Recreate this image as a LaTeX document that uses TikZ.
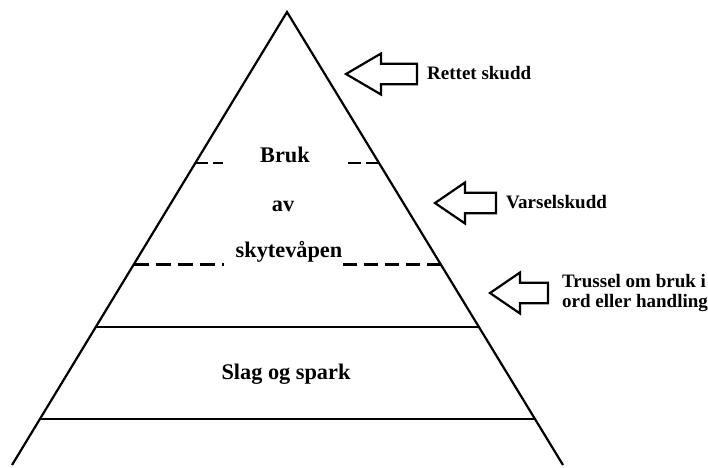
\documentclass[tikz,border=0pt]{standalone}
\usepackage{fontspec}
\setmainfont{Liberation Serif}
\usetikzlibrary{calc}
\tikzset{
  edge/.style={line width=2.2pt, line cap=butt},
  dashline/.style={line width=2.4pt, dash pattern=on 13pt off 6pt},
  big/.style={font=\bfseries\fontsize{22.3}{24}\selectfont, inner sep=0pt},
  side/.style={font=\bfseries\fontsize{19}{20.5}\selectfont, inner sep=0pt, anchor=west, align=left},
  blockarrow/.style={line width=2.2pt, line join=miter, fill=white}
}
\newcommand{\leftblockarrow}[3]{% tip coordinate, head length, total length
  \draw[blockarrow] (#1) -- ++(#2,-20.5) -- ++(0,10.25) -- ++(#3-#2,0) -- ++(0,20.5) -- ++(#2-#3,0) -- ++(0,10.25) -- cycle;
}
\begin{document}
\begin{tikzpicture}[x=1pt,y=-1pt]
\useasboundingbox (0,0) rectangle (708,467);
\coordinate (apex) at (287,12);
\coordinate (bl) at (12,465);
\coordinate (br) at (563,465);
% triangle sides
\draw[edge, line join=miter] (bl) -- (apex) -- (br);
% solid levels
\coordinate (l3) at ($(apex)!{(327-12)/453}!(bl)$);
\coordinate (r3) at ($(apex)!{(327-12)/453}!(br)$);
\coordinate (l4) at ($(apex)!{(419-12)/453}!(bl)$);
\coordinate (r4) at ($(apex)!{(419-12)/453}!(br)$);
\draw[edge] (l3) -- (r3);
\draw[edge] (l4) -- (r4);
% dashed levels
\coordinate (l1) at ($(apex)!{(163-12)/453}!(bl)$);
\coordinate (r1) at ($(apex)!{(163-12)/453}!(br)$);
\coordinate (l2) at ($(apex)!{(264.5-12)/453}!(bl)$);
\coordinate (r2) at ($(apex)!{(264.5-12)/453}!(br)$);
\draw[dashline, dash pattern=on 13pt off 5pt] (l1) -- ++(28,0);
\draw[dashline, dash pattern=on 13pt off 5pt] (r1) -- ++(-32,0);
\draw[dashline, dash pattern=on 15pt off 7pt] (l2) -- ++(90,0);
\draw[dashline, dash pattern=on 14pt off 7pt] (r2) -- ++(-99,0);
% main labels
\node[big] (bruk) at (285,155) {Bruk};
\node[big] (av) at (283,206) {av};
\node[big] (skyte) at (289,252) {skytevåpen};
\node[big] (slag) at (286,374) {Slag og spark};
% arrows
\coordinate (a1) at (346,74);
\coordinate (a2) at (435,203);
\coordinate (a3) at (490,293);
\leftblockarrow{a1}{35}{71}
\leftblockarrow{a2}{30}{61}
\leftblockarrow{a3}{30}{58}
\node[side] (t1) at (427,73) {Rettet skudd};
\node[side] (t2) at (506,202) {Varselskudd};
\node[side] (t3) at (562,293) {Trussel om bruk i\\ord eller handling};
\end{tikzpicture}
\end{document}
